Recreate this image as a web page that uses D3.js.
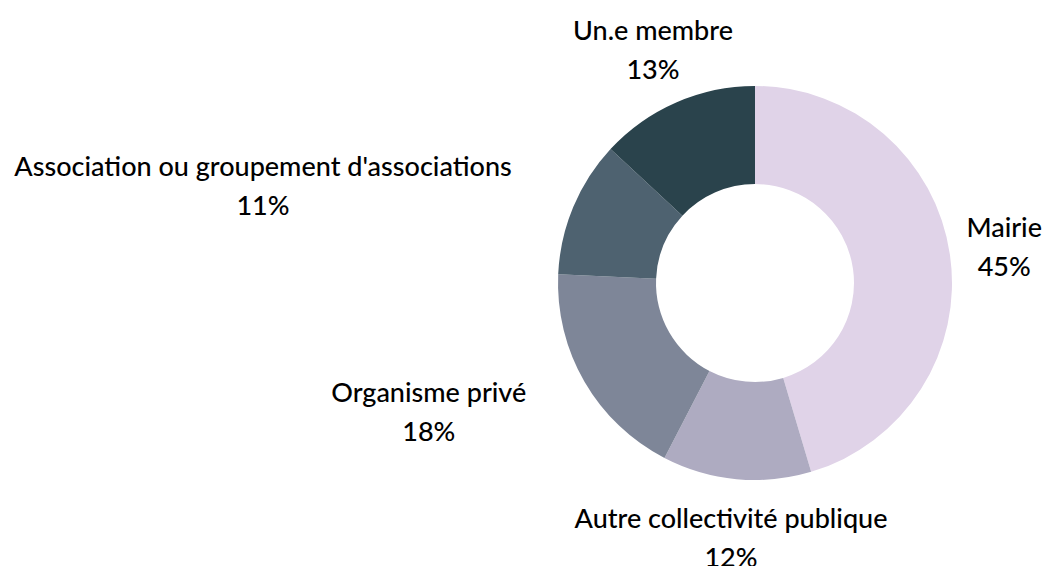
<!DOCTYPE html>
<html>
<head>
<meta charset="utf-8">
<script src="https://cdn.jsdelivr.net/npm/d3@7.9.0/dist/d3.min.js"></script>
<style>
  html, body { margin: 0; padding: 0; background: #fff; }
  svg text { font-family: Lato, "Noto Sans", sans-serif; font-size: 27px; font-weight: 500; fill: #000; }
</style>
</head>
<body>
<svg id="chart" width="1047" height="566"></svg>
<script>
const labels = ['Mairie', 'Autre collectivité publique', 'Organisme privé',
  "Association ou groupement d'associations", 'Un.e membre'];
const values = [45.4, 12.2, 18.1, 11.2, 13.1];
const colors = ['#e0d3e8', '#aeabc1', '#7e8698', '#4e6270', '#2a434c'];

const width = 1047, height = 566;
const cx = 755, cy = 283;
const outerR = 197, innerR = 99, labelR = 255;
const lineH = 39;

const svg = d3.select('#chart');
const g = svg.append('g').attr('transform', `translate(${cx},${cy})`);

const pie = d3.pie().value(d => d).sort(null);
const arc = d3.arc().innerRadius(innerR).outerRadius(outerR);
const labelArc = d3.arc().innerRadius(labelR).outerRadius(labelR);

const arcData = pie(values);

g.selectAll('path')
  .data(arcData)
  .join('path')
  .attr('d', arc)
  .attr('fill', (d, i) => colors[i]);

let total = d3.sum(values);

arcData.forEach((d, i) => {
  let [px, py] = labelArc.centroid(d);
  let mid = (d.startAngle + d.endAngle) / 2;
  let vx = Math.sin(mid);

  let t = g.append('text').attr('text-anchor', 'middle');
  t.append('tspan').attr('x', 0).attr('dy', 0).text(labels[i]);
  t.append('tspan').attr('x', 0).attr('dy', lineH)
    .text(`${Math.round(values[i] / total * 100)}%`);

  let w = t.node().getBBox().width;
  let x = px;
  if (vx < -0.5) x = px - w / 2 - 8;
  else if (vx > 0.5) x = px + w / 2;
  // keep the label inside the picture
  let left = cx + x - w / 2, right = cx + x + w / 2;
  if (right > width - 5) x -= right - (width - 5);
  if (left < 5) x += 5 - left;

  t.attr('transform', `translate(${x},${py - lineH / 2})`);
  t.selectAll('tspan').attr('dominant-baseline', 'central');
});
</script>
</body>
</html>
